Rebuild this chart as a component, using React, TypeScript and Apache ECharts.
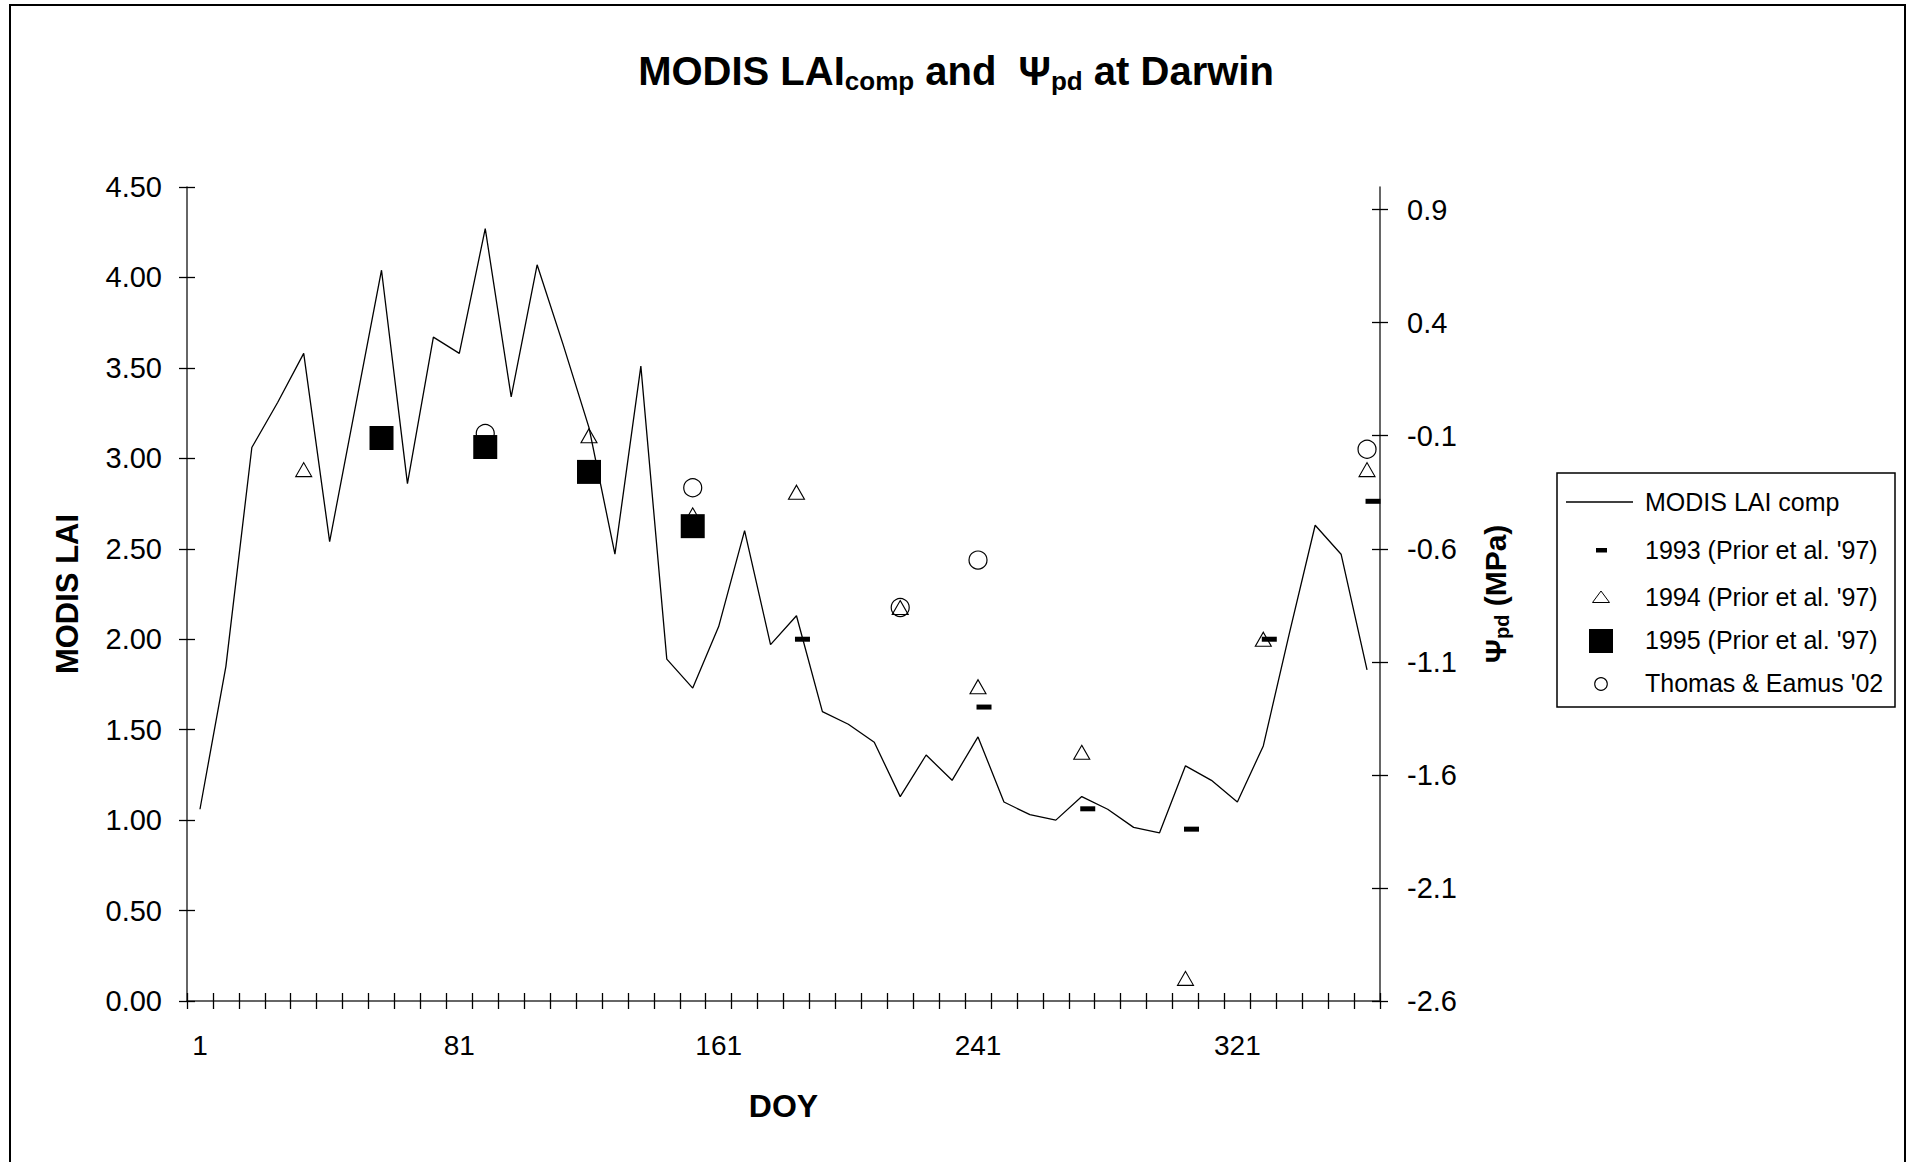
import React, { useEffect, useRef } from "react";
import * as echarts from "echarts";

// ---- data ----
const doyCategories = [
  "1", "9", "17", "25", "33", "41", "49", "57", "65", "73", "81", "89", "97", "105", "113", "121",
  "129", "137", "145", "153", "161", "169", "177", "185", "193", "201", "209", "217", "225", "233",
  "241", "249", "257", "265", "273", "281", "289", "297", "305", "313", "321", "329", "337", "345",
  "353", "361",
];

const modisLai = [
  1.06, 1.85, 3.06, 3.31, 3.58, 2.54, 3.29, 4.04, 2.86, 3.67, 3.58, 4.27, 3.34, 4.07, 3.63, 3.17,
  2.47, 3.51, 1.89, 1.73, 2.07, 2.6, 1.97, 2.13, 1.6, 1.53, 1.43, 1.13, 1.36, 1.22, 1.46, 1.1,
  1.03, 1.0, 1.13, 1.06, 0.96, 0.93, 1.3, 1.22, 1.1, 1.41, 2.03, 2.63, 2.47, 1.83,
];

const psi1993Doy = [185, 241, 273, 305, 329, 361];
const psi1993 = [-1.0, -1.3, -1.75, -1.84, -1.0, -0.39];

const psi1994Doy = [33, 121, 153, 185, 217, 241, 273, 305, 329, 361];
const psi1994 = [-0.25, -0.1, -0.45, -0.35, -0.86, -1.21, -1.5, -2.5, -1.0, -0.25];

const psi1995Doy = [57, 89, 121, 153];
const psi1995 = [-0.11, -0.15, -0.26, -0.5];

const thomasDoy = [89, 153, 217, 241, 361];
const thomasPsi = [-0.09, -0.33, -0.86, -0.65, -0.16];

const laiMin = 0;
const laiMax = 4.5;
const laiInterval = 0.5;
const psiMin = -2.6;
const psiMax = 1.0;
const psiTickValues = [-2.6, -2.1, -1.6, -1.1, -0.6, -0.1, 0.4, 0.9];

const legendLabels = [
  "MODIS LAI comp",
  "1993 (Prior et al. '97)",
  "1994 (Prior et al. '97)",
  "1995 (Prior et al. '97)",
  "Thomas & Eamus '02",
];

// ---- styles ----
const SANS = "'Liberation Sans', Arial, Helvetica, sans-serif";
const AXIS_COLOR = "#333";

function toPoints(doys: number[], vals: number[]) {
  return doys.map((d, i) => [doyCategories.indexOf(String(d)), vals[i]]);
}

export default function App() {
  const ref = useRef<HTMLDivElement>(null);

  useEffect(() => {
    if (!ref.current) return;
    document.body.style.overflow = "hidden";
    const chart = echarts.init(ref.current, undefined, { renderer: "svg" });

    const gridLeft = 187;
    const gridRight = 1912 - 1380;
    const gridTop = 187;
    const gridBottom = 1162 - 1001;

    const legendX = 1557;
    const legendY = 473;
    const symX = 1601;
    const textX = 1645;
    const rowY = [502, 550, 597, 640, 683];

    const option: any = {
      animation: false,
      backgroundColor: "#fff",
      title: {
        left: "center",
        top: 43,
        padding: 5,
        text: "{m|MODIS LAI}{s|comp}{m| and  Ψ}{s|pd}{m| at Darwin}",
        textStyle: {
          rich: {
            m: { fontSize: 40, fontWeight: "bold", fontFamily: SANS, color: "#000", lineHeight: 46 },
            s: {
              fontSize: 26,
              fontWeight: "bold",
              fontFamily: SANS,
              color: "#000",
              lineHeight: 30,
              verticalAlign: "bottom",
            },
          },
        },
      },
      grid: { left: gridLeft, right: gridRight, top: gridTop, bottom: gridBottom, containLabel: false },
      xAxis: [
        {
          type: "category",
          data: doyCategories,
          boundaryGap: true,
          position: "bottom",
          axisLine: { show: true, onZero: false, lineStyle: { color: AXIS_COLOR, width: 1.5 } },
          axisTick: { show: true, interval: 0, length: 8, lineStyle: { color: "#000", width: 1.3 } },
          axisLabel: {
            interval: 9,
            margin: 30,
            fontSize: 28,
            fontFamily: SANS,
            color: "#000",
          },
          splitLine: { show: false },
          name: "DOY",
          nameLocation: "middle",
          nameGap: 89,
          nameTextStyle: { fontSize: 32, fontWeight: "bold", fontFamily: SANS, color: "#000" },
        },
        {
          type: "category",
          data: doyCategories,
          boundaryGap: true,
          position: "bottom",
          axisLine: { show: false, onZero: false },
          axisTick: { show: true, inside: true, interval: 0, length: 8, lineStyle: { color: "#000", width: 1.3 } },
          axisLabel: { show: false },
          splitLine: { show: false },
        },
      ],
      yAxis: [
        {
          type: "value",
          position: "left",
          min: laiMin,
          max: laiMax,
          interval: laiInterval,
          axisLine: { show: true, lineStyle: { color: AXIS_COLOR, width: 1.5 } },
          axisTick: { show: true, length: 8, lineStyle: { color: "#000", width: 1.3 } },
          axisLabel: {
            margin: 25,
            fontSize: 29,
            fontFamily: SANS,
            color: "#000",
            formatter: (v: number) => v.toFixed(2),
          },
          splitLine: { show: false },
          name: "MODIS LAI",
          nameLocation: "middle",
          nameGap: 104,
          nameTextStyle: { fontSize: 31, fontWeight: "bold", fontFamily: SANS, color: "#000" },
        },
        {
          type: "value",
          position: "right",
          min: psiMin,
          max: psiMax,
          axisLine: { show: true, lineStyle: { color: AXIS_COLOR, width: 1.5 } },
          axisTick: {
            show: true,
            length: 8,
            customValues: psiTickValues,
            lineStyle: { color: "#000", width: 1.3 },
          },
          axisLabel: {
            margin: 27,
            fontSize: 29,
            fontFamily: SANS,
            color: "#000",
            customValues: psiTickValues,
            formatter: (v: number) => v.toFixed(1),
          },
          splitLine: { show: false },
          name: "{p|Ψ}{s|pd}{p| (MPa)}",
          nameLocation: "middle",
          nameGap: 98,
          nameTextStyle: {
            rich: {
              p: { fontSize: 30, fontWeight: "bold", fontFamily: SANS, color: "#000", lineHeight: 34 },
              s: {
                fontSize: 20,
                fontWeight: "bold",
                fontFamily: SANS,
                color: "#000",
                lineHeight: 22,
                verticalAlign: "bottom",
              },
            },
          },
        },
        {
          type: "value",
          position: "left",
          min: laiMin,
          max: laiMax,
          interval: laiInterval,
          axisLine: { show: false },
          axisTick: { show: true, inside: true, length: 8, lineStyle: { color: "#000", width: 1.3 } },
          axisLabel: { show: false },
          splitLine: { show: false },
        },
        {
          type: "value",
          position: "right",
          min: psiMin,
          max: psiMax,
          axisLine: { show: false },
          axisTick: {
            show: true,
            inside: true,
            length: 8,
            customValues: psiTickValues,
            lineStyle: { color: "#000", width: 1.3 },
          },
          axisLabel: { show: false, customValues: psiTickValues },
          splitLine: { show: false },
        },
      ],
      series: [
        {
          name: legendLabels[0],
          type: "line",
          xAxisIndex: 0,
          yAxisIndex: 0,
          data: modisLai,
          symbol: "none",
          lineStyle: { color: "#000", width: 1.3 },
        },
        {
          name: legendLabels[1],
          type: "scatter",
          xAxisIndex: 0,
          yAxisIndex: 1,
          data: toPoints(psi1993Doy, psi1993),
          symbol: "rect",
          symbolSize: [15, 5],
          symbolOffset: [6, 0],
          itemStyle: { color: "#000", opacity: 1 },
        },
        {
          name: legendLabels[2],
          type: "scatter",
          xAxisIndex: 0,
          yAxisIndex: 1,
          data: toPoints(psi1994Doy, psi1994),
          symbol: "triangle",
          symbolSize: [16, 14],
          itemStyle: { color: "rgba(255,255,255,0)", borderColor: "#000", borderWidth: 1.1, opacity: 1 },
        },
        {
          name: legendLabels[3],
          type: "scatter",
          xAxisIndex: 0,
          yAxisIndex: 1,
          data: toPoints(psi1995Doy, psi1995),
          symbol: "rect",
          symbolSize: 24,
          itemStyle: { color: "#000", opacity: 1 },
        },
        {
          name: legendLabels[4],
          type: "scatter",
          xAxisIndex: 0,
          yAxisIndex: 1,
          data: toPoints(thomasDoy, thomasPsi),
          symbol: "circle",
          symbolSize: 18,
          itemStyle: { color: "rgba(255,255,255,0)", borderColor: "#000", borderWidth: 1.2, opacity: 1 },
        },
      ],
      graphic: [
        {
          type: "rect",
          silent: true,
          shape: { x: 10, y: 5, width: 1895, height: 1180 },
          style: { fill: "none", stroke: "#000", lineWidth: 2 },
        },
        {
          type: "rect",
          silent: true,
          shape: { x: legendX, y: legendY, width: 338, height: 234 },
          style: { fill: "#fff", stroke: "#000", lineWidth: 1.5 },
        },
        {
          type: "line",
          silent: true,
          shape: { x1: 1566, y1: rowY[0], x2: 1633, y2: rowY[0] },
          style: { stroke: "#000", lineWidth: 1.3 },
        },
        {
          type: "rect",
          silent: true,
          shape: { x: symX - 5, y: rowY[1] - 2, width: 11, height: 4.5 },
          style: { fill: "#000" },
        },
        {
          type: "polygon",
          silent: true,
          shape: {
            points: [
              [symX, rowY[2] - 6],
              [symX - 8.5, rowY[2] + 5.5],
              [symX + 8.5, rowY[2] + 5.5],
            ],
          },
          style: { fill: "none", stroke: "#000", lineWidth: 1 },
        },
        {
          type: "rect",
          silent: true,
          shape: { x: symX - 12, y: rowY[3] - 11, width: 24, height: 24 },
          style: { fill: "#000" },
        },
        {
          type: "circle",
          silent: true,
          shape: { cx: symX, cy: rowY[4] + 1, r: 6.3 },
          style: { fill: "none", stroke: "#000", lineWidth: 1.1 },
        },
        ...legendLabels.map((t, i) => ({
          type: "text",
          silent: true,
          x: textX,
          y: rowY[i],
          style: {
            text: t,
            fill: "#000",
            font: `25px ${SANS}`,
            textAlign: "left",
            textVerticalAlign: "middle",
          },
        })),
      ],
    };

    chart.setOption(option);
    return () => {
      chart.dispose();
    };
  }, []);

  return (
    <div
      ref={ref}
      style={{ position: "absolute", left: 0, top: 0, width: 1912, height: 1162, background: "#fff" }}
    />
  );
}
